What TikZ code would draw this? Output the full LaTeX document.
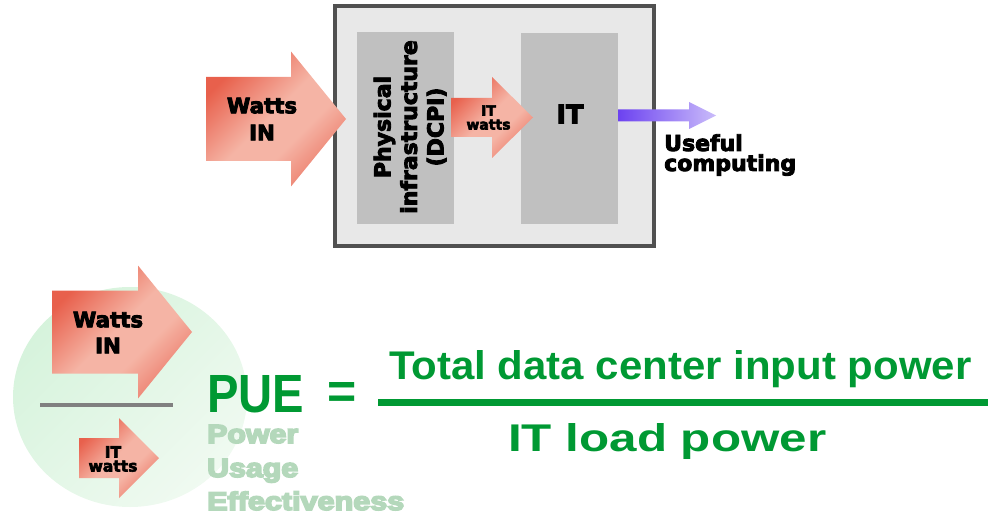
\documentclass[tikz,border=0pt]{standalone}
\usepackage{fontspec}
\setmainfont{DejaVu Sans}[BoldFeatures={FakeBold=4}]
\newfontfamily\arialf{Liberation Sans}
\newfontfamily\arialh{Liberation Sans}[BoldFeatures={FakeBold=6}]
\usepackage{graphicx}
\definecolor{sdark}{RGB}{232,96,76}
\definecolor{slight}{RGB}{245,180,165}
\definecolor{smid}{RGB}{236,122,104}
\definecolor{pdark}{RGB}{108,66,240}
\definecolor{plight}{RGB}{202,188,250}
\definecolor{boxgray}{RGB}{80,80,80}
\definecolor{boxfill}{RGB}{232,232,232}
\definecolor{infra}{RGB}{192,192,192}
\definecolor{pgreen}{RGB}{0,153,51}
\definecolor{lgreen}{RGB}{180,216,187}
\definecolor{cdark}{RGB}{214,243,220}
\definecolor{clight}{RGB}{240,250,241}
\definecolor{linegray}{RGB}{128,128,128}
\pgfdeclarehorizontalshading{salmonsh}{100bp}{color(0bp)=(sdark); color(26bp)=(sdark); color(48bp)=(slight); color(60bp)=(slight); color(76bp)=(smid); color(100bp)=(smid)}
\newcommand\blockarrowpath[6]{(#1,#4-#5) -- (#2,#4-#5) -- (#2,#4-#6) -- (#3,#4) -- (#2,#4+#6) -- (#2,#4+#5) -- (#1,#4+#5) -- cycle}
\begin{document}
\begin{tikzpicture}[x=1pt,y=-1pt,
  salmon/.style={shading=salmonsh, shading angle=-45},
  lbl/.style={inner sep=0, align=center, text=black},
  gtxt/.style={inner sep=0, anchor=base west, text=pgreen, font=\arialf\bfseries},
  ltxt/.style={inner sep=0, anchor=base west, text=lgreen, font=\arialh\bfseries},
  blockbox/.style={inner sep=0, fill=infra}]
\useasboundingbox (0,0) rectangle (991,516);
% ---------- top diagram ----------
\node[draw=boxgray, line width=4.5, fill=boxfill, inner sep=0, minimum width=319, minimum height=240] (dc) at (494.5,126) {};
\node[blockbox, minimum width=97, minimum height=192] (dcpi) at (405.5,128) {};
\node[blockbox, minimum width=97, minimum height=191] (it) at (569.5,128.5) {};
\node[lbl, rotate=90, font=\fontsize{22}{26.5}\selectfont\bfseries] (dcpilbl) at (410,127) {Physical\\infrastructure\\(DCPI)};
\node[lbl, font=\fontsize{25.5}{26}\selectfont\bfseries] (itlbl) at (570,114) {IT};
\path[salmon] \blockarrowpath{206}{291}{346}{119}{42}{67.5};
\node[lbl, font=\fontsize{21.3}{27}\selectfont\bfseries] (wattsin) at (262,119) {Watts\\IN};
\path[salmon] \blockarrowpath{451}{492}{533}{117.5}{19.5}{40.5};
\node[lbl, font=\fontsize{14}{14}\selectfont\bfseries] (itwatts) at (488.5,117.5) {IT\\watts};
\coordinate (usefulend) at (716,115.5);
\path[left color=pdark, right color=plight] \blockarrowpath{618}{689}{716}{115.5}{6}{13.5};
\node[lbl, align=left, anchor=west, font=\fontsize{22}{20}\selectfont\bfseries] (useful) at (664,155) {Useful\\computing};
% ---------- bottom diagram ----------
\path[top color=cdark, bottom color=clight, shading angle=45] (130,397) ellipse [x radius=117, y radius=110];
\node[inner sep=0] (circ) at (130,397) {};
\path[salmon] \blockarrowpath{52}{138}{192}{332}{41.5}{66.5};
\node[lbl, font=\fontsize{21.3}{26}\selectfont\bfseries] (wattsin2) at (108,332.5) {Watts\\IN};
\coordinate (barl) at (40,405);
\coordinate (barr) at (173,405);
\draw[line width=4, draw=linegray] (barl) -- (barr);
\path[salmon] \blockarrowpath{79}{119}{159}{458}{20}{40};
\node[lbl, font=\fontsize{15.5}{14}\selectfont\bfseries] (itwatts2) at (113,459) {IT\\watts};
\node[gtxt] (pue) at (207,412) {\resizebox{97pt}{37pt}{PUE}};
\node[inner sep=0, text=pgreen, font=\arialf\bfseries\fontsize{50}{50}\selectfont] (eq) at (342,395) {=};
\node[ltxt] (pw) at (207,443) {\resizebox{91pt}{18pt}{Power}};
\node[ltxt] (us) at (207,477) {\resizebox{91pt}{18pt}{Usage}};
\node[ltxt] (ef) at (207,510) {\resizebox{197pt}{18.5pt}{Effectiveness}};
\node[gtxt] (num) at (389,379) {\resizebox{582pt}{29pt}{Total data center input power}};
\coordinate (fl) at (378,402.5);
\coordinate (fr) at (988,402.5);
\draw[line width=7, draw=pgreen] (fl) -- (fr);
\node[gtxt] (den) at (508,451) {\resizebox{318pt}{28pt}{IT load power}};
\end{tikzpicture}
\end{document}
